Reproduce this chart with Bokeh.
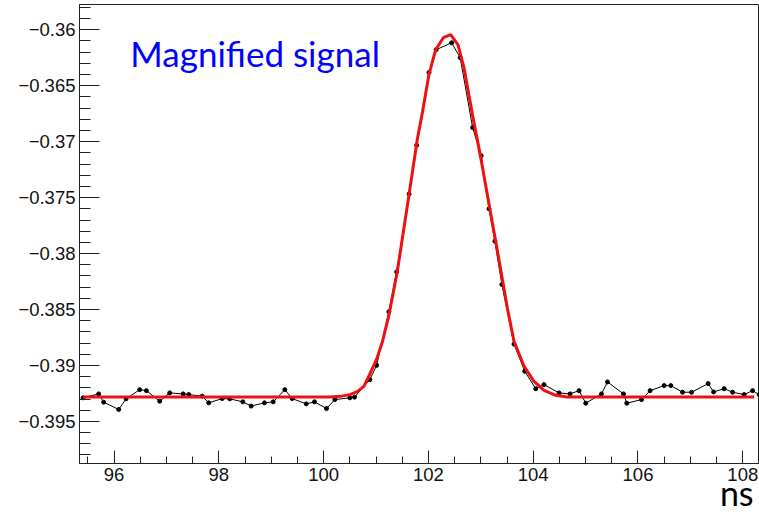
import numpy as np
from bokeh.plotting import figure
from bokeh.models import Range1d, FixedTicker, Label
from bokeh.embed import file_html
from bokeh.resources import INLINE

# ---- data ----
time_ns = [95.408, 95.706, 95.801, 96.088, 96.229, 96.489, 96.617, 96.871, 97.062, 97.318,
           97.425, 97.681, 97.807, 98.063, 98.208, 98.457, 98.617, 98.871, 99.037, 99.259,
           99.400, 99.668, 99.826, 100.055, 100.214, 100.500, 100.590, 100.882, 101.011, 101.245,
           101.393, 101.631, 101.775, 102.010, 102.147, 102.443, 102.606, 102.844, 103.007, 103.156,
           103.268, 103.402, 103.633, 103.838, 104.048, 104.206, 104.493, 104.703, 104.875, 105.003,
           105.303, 105.418, 105.723, 105.786, 106.067, 106.231, 106.499, 106.627, 106.850, 107.022,
           107.339, 107.442, 107.645, 107.805, 108.027, 108.187, 108.313]
amplitude = [-0.39289, -0.39254, -0.39328, -0.39393, -0.39298, -0.39216, -0.39225, -0.39319, -0.39245, -0.39254,
             -0.39260, -0.39274, -0.39334, -0.39296, -0.39298, -0.39325, -0.39363, -0.39334, -0.39325, -0.39216,
             -0.39296, -0.39343, -0.39325, -0.39385, -0.39305, -0.39289, -0.39283, -0.39127, -0.38999, -0.38519,
             -0.38163, -0.37467, -0.37031, -0.36382, -0.36178, -0.36116, -0.36249, -0.36874, -0.37125, -0.37600,
             -0.37889, -0.38276, -0.38809, -0.39052, -0.39207, -0.39171, -0.39245, -0.39254, -0.39225, -0.39337,
             -0.39254, -0.39147, -0.39254, -0.39337, -0.39305, -0.39225, -0.39180, -0.39180, -0.39239, -0.39239,
             -0.39162, -0.39236, -0.39207, -0.39239, -0.39260, -0.39225, -0.39260]

fit_time_ns = [95.408, 100.113, 100.323, 100.514, 100.648, 100.768, 100.883, 101.011, 101.125, 101.245,
               101.406, 101.597, 101.788, 101.889, 102.010, 102.138, 102.285, 102.424, 102.563, 102.678,
               102.839, 102.997, 103.156, 103.316, 103.507, 103.633, 103.824, 104.015, 104.206, 104.430,
               104.653, 108.218]
fit_amplitude = [-0.39281, -0.39281, -0.39276, -0.39258, -0.39232, -0.39187, -0.39076, -0.38943, -0.38783, -0.38552,
                 -0.38160, -0.37574, -0.36978, -0.36729, -0.36400, -0.36178, -0.36071, -0.36044, -0.36133, -0.36338,
                 -0.36756, -0.37138, -0.37556, -0.37974, -0.38489, -0.38783, -0.39005, -0.39143, -0.39223, -0.39267,
                 -0.39281, -0.39281]

x_tick_values = [96, 98, 100, 102, 104, 106, 108]
x_tick_labels = ["96", "98", "100", "102", "104", "106", "108"]
y_tick_values = [-0.395, -0.39, -0.385, -0.38, -0.375, -0.37, -0.365, -0.36]
y_tick_labels = ["\u22120.395", "\u22120.39", "\u22120.385", "\u22120.38",
                 "\u22120.375", "\u22120.37", "\u22120.365", "\u22120.36"]

title_text = "Magnified signal"
x_unit_text = "ns"

# ---- figure ----
p = figure(width=759, height=515,
           x_range=Range1d(95.34, 108.3), y_range=Range1d(-0.39876, -0.35774),
           output_backend="svg", toolbar_location=None,
           min_border_left=79, min_border_right=1, min_border_top=4, min_border_bottom=49)

p.background_fill_color = "white"
p.border_fill_color = "white"
p.outline_line_color = "#222222"
p.outline_line_width = 1
p.xgrid.visible = False
p.ygrid.visible = False

p.line(time_ns, amplitude, line_color="black", line_width=1)
p.scatter(time_ns, amplitude, marker="circle", size=4, fill_color="black", line_color="black")
p.line(fit_time_ns, fit_amplitude, line_color="#f01010", line_width=3)

p.xaxis.ticker = FixedTicker(ticks=x_tick_values, minor_ticks=list(np.arange(95.5, 108.3, 0.5)))
p.yaxis.ticker = FixedTicker(ticks=y_tick_values, minor_ticks=list(np.round(np.arange(-0.398, -0.3575, 0.001), 4)))
p.xaxis.major_label_overrides = dict(zip(x_tick_values, x_tick_labels))
p.yaxis.major_label_overrides = dict(zip(y_tick_values, y_tick_labels))

for ax in (p.xaxis[0], p.yaxis[0]):
    ax.axis_line_color = "#222222"
    ax.major_tick_line_color = "#222222"
    ax.minor_tick_line_color = "#222222"
    ax.major_tick_out = 0
    ax.minor_tick_out = 0
    ax.major_label_text_font = "Liberation Sans"
    ax.major_label_text_font_size = "18.5px"
    ax.major_label_text_color = "#111111"
    ax.major_label_standoff = 4

p.xaxis.major_tick_in = 13
p.xaxis.minor_tick_in = 7
p.yaxis.major_tick_in = 20
p.yaxis.minor_tick_in = 11

# unit label "ns" at the lower right, as the x axis label (centred on the
# frame's right end, so padded on the right with no-break spaces)
xa = p.xaxis[0]
xa.axis_label = x_unit_text + "\u00a0" * 5
xa.axis_label_text_font = "Lato"
xa.axis_label_text_font_size = "34px"
xa.axis_label_text_font_style = "normal"
xa.axis_label_text_color = "black"
xa.axis_label_text_line_height = 0.9
xa.axis_label_standoff = -12
try:
    xa.axis_label_align = "end"
except Exception:
    pass

p.add_layout(Label(x=96.311, y=-0.36207, text=title_text, text_font="Lato",
                   text_font_size="35px", text_color="#0000ff",
                   text_baseline="alphabetic", text_align="left"))

open("out.html", "w").write(file_html(p, INLINE))
